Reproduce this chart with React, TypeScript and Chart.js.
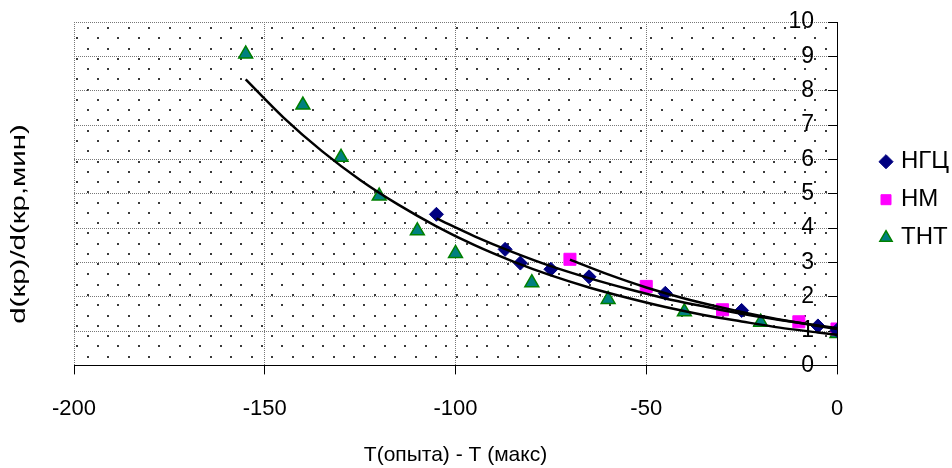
import { useEffect, useRef } from 'react';
import { Chart, registerables } from 'chart.js';

Chart.register(...registerables);

const FONT = "'Liberation Sans', Arial, sans-serif";

// Series: НГЦ (diamonds)
const ngcX = [-105, -87, -83, -75, -65, -45, -25, -5, 0];
const ngcY = [4.40, 3.38, 2.98, 2.80, 2.58, 2.10, 1.60, 1.15, 1.02];
// Series: НМ (squares)
const nmX = [-70, -50, -30, -10, 0];
const nmY = [3.09, 2.30, 1.62, 1.27, 1.06];
// Series: ТНТ (triangles)
const thtX = [-155, -140, -130, -120, -110, -100, -80, -60, -40, -20, 0];
const thtY = [9.07, 7.58, 6.06, 4.93, 3.92, 3.26, 2.41, 1.92, 1.56, 1.26, 0.93];

// Trend curves
const thtTrendX = [-155, -145, -135, -125, -115, -105, -95, -85, -75, -65, -55, -45, -35, -25, -15, -5, 0];
const thtTrendY = [8.33, 7.21, 6.24, 5.40, 4.68, 4.05, 3.50, 3.03, 2.62, 2.27, 1.97, 1.70, 1.47, 1.28, 1.10, 0.96, 0.89];
const ngcTrendX = [-105, -95, -85, -75, -65, -55, -45, -35, -25, -15, -5, 0];
const ngcTrendY = [4.28, 3.76, 3.30, 2.89, 2.54, 2.23, 1.95, 1.72, 1.50, 1.32, 1.16, 1.09];
const nmTrendX = [-70, -60, -50, -40, -30, -20, -10, 0];
const nmTrendY = [3.08, 2.65, 2.27, 1.95, 1.68, 1.44, 1.24, 1.06];

const seriesNames = ['НГЦ', 'НМ', 'ТНТ'];
const X_MIN = -200;
const X_MAX = 0;
const X_STEP = 50;
const Y_MIN = 0;
const Y_MAX = 10;
const Y_STEP = 1;
const X_TITLE = 'T(опыта) - T (макс)';
const Y_TITLE = 'd(кр)/d(кр,мин)';

const pts = (xs: number[], ys: number[]) => xs.map((x, i) => ({ x, y: ys[i] }));

export default function App() {
  const ref = useRef<HTMLCanvasElement>(null);

  useEffect(() => {
    if (!ref.current) return;
    Chart.defaults.font.family = FONT;
    Chart.defaults.color = '#000';

    const dotsPlugin = {
      id: 'dotsBackground',
      beforeDraw(chart: any) {
        const { ctx, chartArea: a } = chart;
        ctx.save();
        ctx.fillStyle = '#fff';
        ctx.fillRect(a.left, a.top, a.right - a.left, a.bottom - a.top);
        ctx.fillStyle = '#3a3a3a';
        const sx = 20.5;
        const sy = 10.27;
        for (let j = 0; ; j++) {
          const y = a.top + 6 + j * sy;
          if (y > a.bottom - 2) break;
          const off = j % 2 === 0 ? 13.6 : 3.35;
          for (let x = a.left + off; x < a.right - 2; x += sx) {
            ctx.fillRect(Math.round(x) - 1, Math.round(y) - 1, 2, 2);
          }
        }
        ctx.restore();
      },
    };

    const yTitlePlugin = {
      id: 'yTitle',
      afterDraw(chart: any) {
        const ctx = chart.ctx;
        ctx.save();
        ctx.translate(19, 224);
        ctx.rotate(-Math.PI / 2);
        ctx.scale(1.4, 1);
        ctx.font = `21px ${FONT}`;
        ctx.fillStyle = '#000';
        ctx.textAlign = 'center';
        ctx.textBaseline = 'middle';
        ctx.fillText(Y_TITLE, 0, 0);
        ctx.restore();
      },
    };

    const trend = (xs: number[], ys: number[]) => ({
      label: '',
      data: pts(xs, ys),
      showLine: true,
      pointRadius: 0,
      borderColor: '#000',
      backgroundColor: '#000',
      borderWidth: 2.5,
      cubicInterpolationMode: 'monotone' as const,
      order: 0,
    });

    const chart = new Chart(ref.current, {
      type: 'scatter',
      data: {
        datasets: [
          {
            label: seriesNames[0],
            data: pts(ngcX, ngcY),
            pointStyle: 'rectRot',
            pointRadius: 7,
            backgroundColor: '#000080',
            borderColor: '#000080',
            borderWidth: 1,
            order: 1,
          },
          {
            label: seriesNames[1],
            data: pts(nmX, nmY),
            pointStyle: 'rect',
            pointRadius: 8.5,
            backgroundColor: '#FF00FF',
            borderColor: '#FF00FF',
            borderWidth: 1,
            order: 1,
          },
          {
            label: seriesNames[2],
            data: pts(thtX, thtY),
            pointStyle: 'triangle',
            pointRadius: 8,
            backgroundColor: '#008080',
            borderColor: '#008000',
            borderWidth: 1.5,
            order: 1,
          },
          trend(thtTrendX, thtTrendY),
          trend(ngcTrendX, ngcTrendY),
          trend(nmTrendX, nmTrendY),
        ] as any,
      },
      options: {
        animation: false,
        responsive: false,
        devicePixelRatio: 1,
        events: [],
        layout: { padding: { left: 74, top: 22, right: 0, bottom: 0 } },
        scales: {
          x: {
            type: 'linear',
            position: 'bottom',
            min: X_MIN,
            max: X_MAX,
            ticks: { stepSize: X_STEP, font: { size: 22 }, color: '#000', padding: 21 },
            grid: { color: '#777', lineWidth: 1, tickLength: 9, tickColor: '#000', tickWidth: 1 },
            border: { display: true, color: '#000', width: 1, dash: [1, 1] },
            title: { display: true, text: X_TITLE, font: { size: 21 }, color: '#000', padding: { top: 0, bottom: 0 } },
          },
          y: {
            type: 'linear',
            position: 'right',
            min: Y_MIN,
            max: Y_MAX,
            ticks: {
              stepSize: Y_STEP,
              mirror: true,
              padding: 0,
              font: { size: 23 },
              color: '#000',
              callback: (v: any) => `${v}\u2002\u2002`,
            },
            grid: { color: '#777', lineWidth: 1, tickLength: -9, tickColor: '#000', tickWidth: 1 },
            border: { display: true, color: '#000', width: 1, dash: [1, 1] },
            afterFit: (s: any) => {
              s.width = 32;
              s.paddingTop = 0;
              s.paddingBottom = 0;
            },
          },
        } as any,
        plugins: {
          tooltip: { enabled: false },
          legend: {
            position: 'right',
            fullSize: false,
            maxWidth: 83,
            align: 'center',
            title: { display: true, text: '', padding: 0, font: { size: 10 } },
            labels: {
              usePointStyle: true,
              boxWidth: 6,
              boxHeight: 10,
              padding: 14,
              font: { size: 24 },
              color: '#000',
              filter: (item: any) => item.datasetIndex < 3,
            },
          } as any,
        },
      },
      plugins: [dotsPlugin, yTitlePlugin],
    });

    return () => chart.destroy();
  }, []);

  return (
    <div style={{ position: 'fixed', left: 0, top: 0, width: 952, height: 468, background: '#fff' }}>
      <canvas ref={ref} width={952} height={468} />
    </div>
  );
}
